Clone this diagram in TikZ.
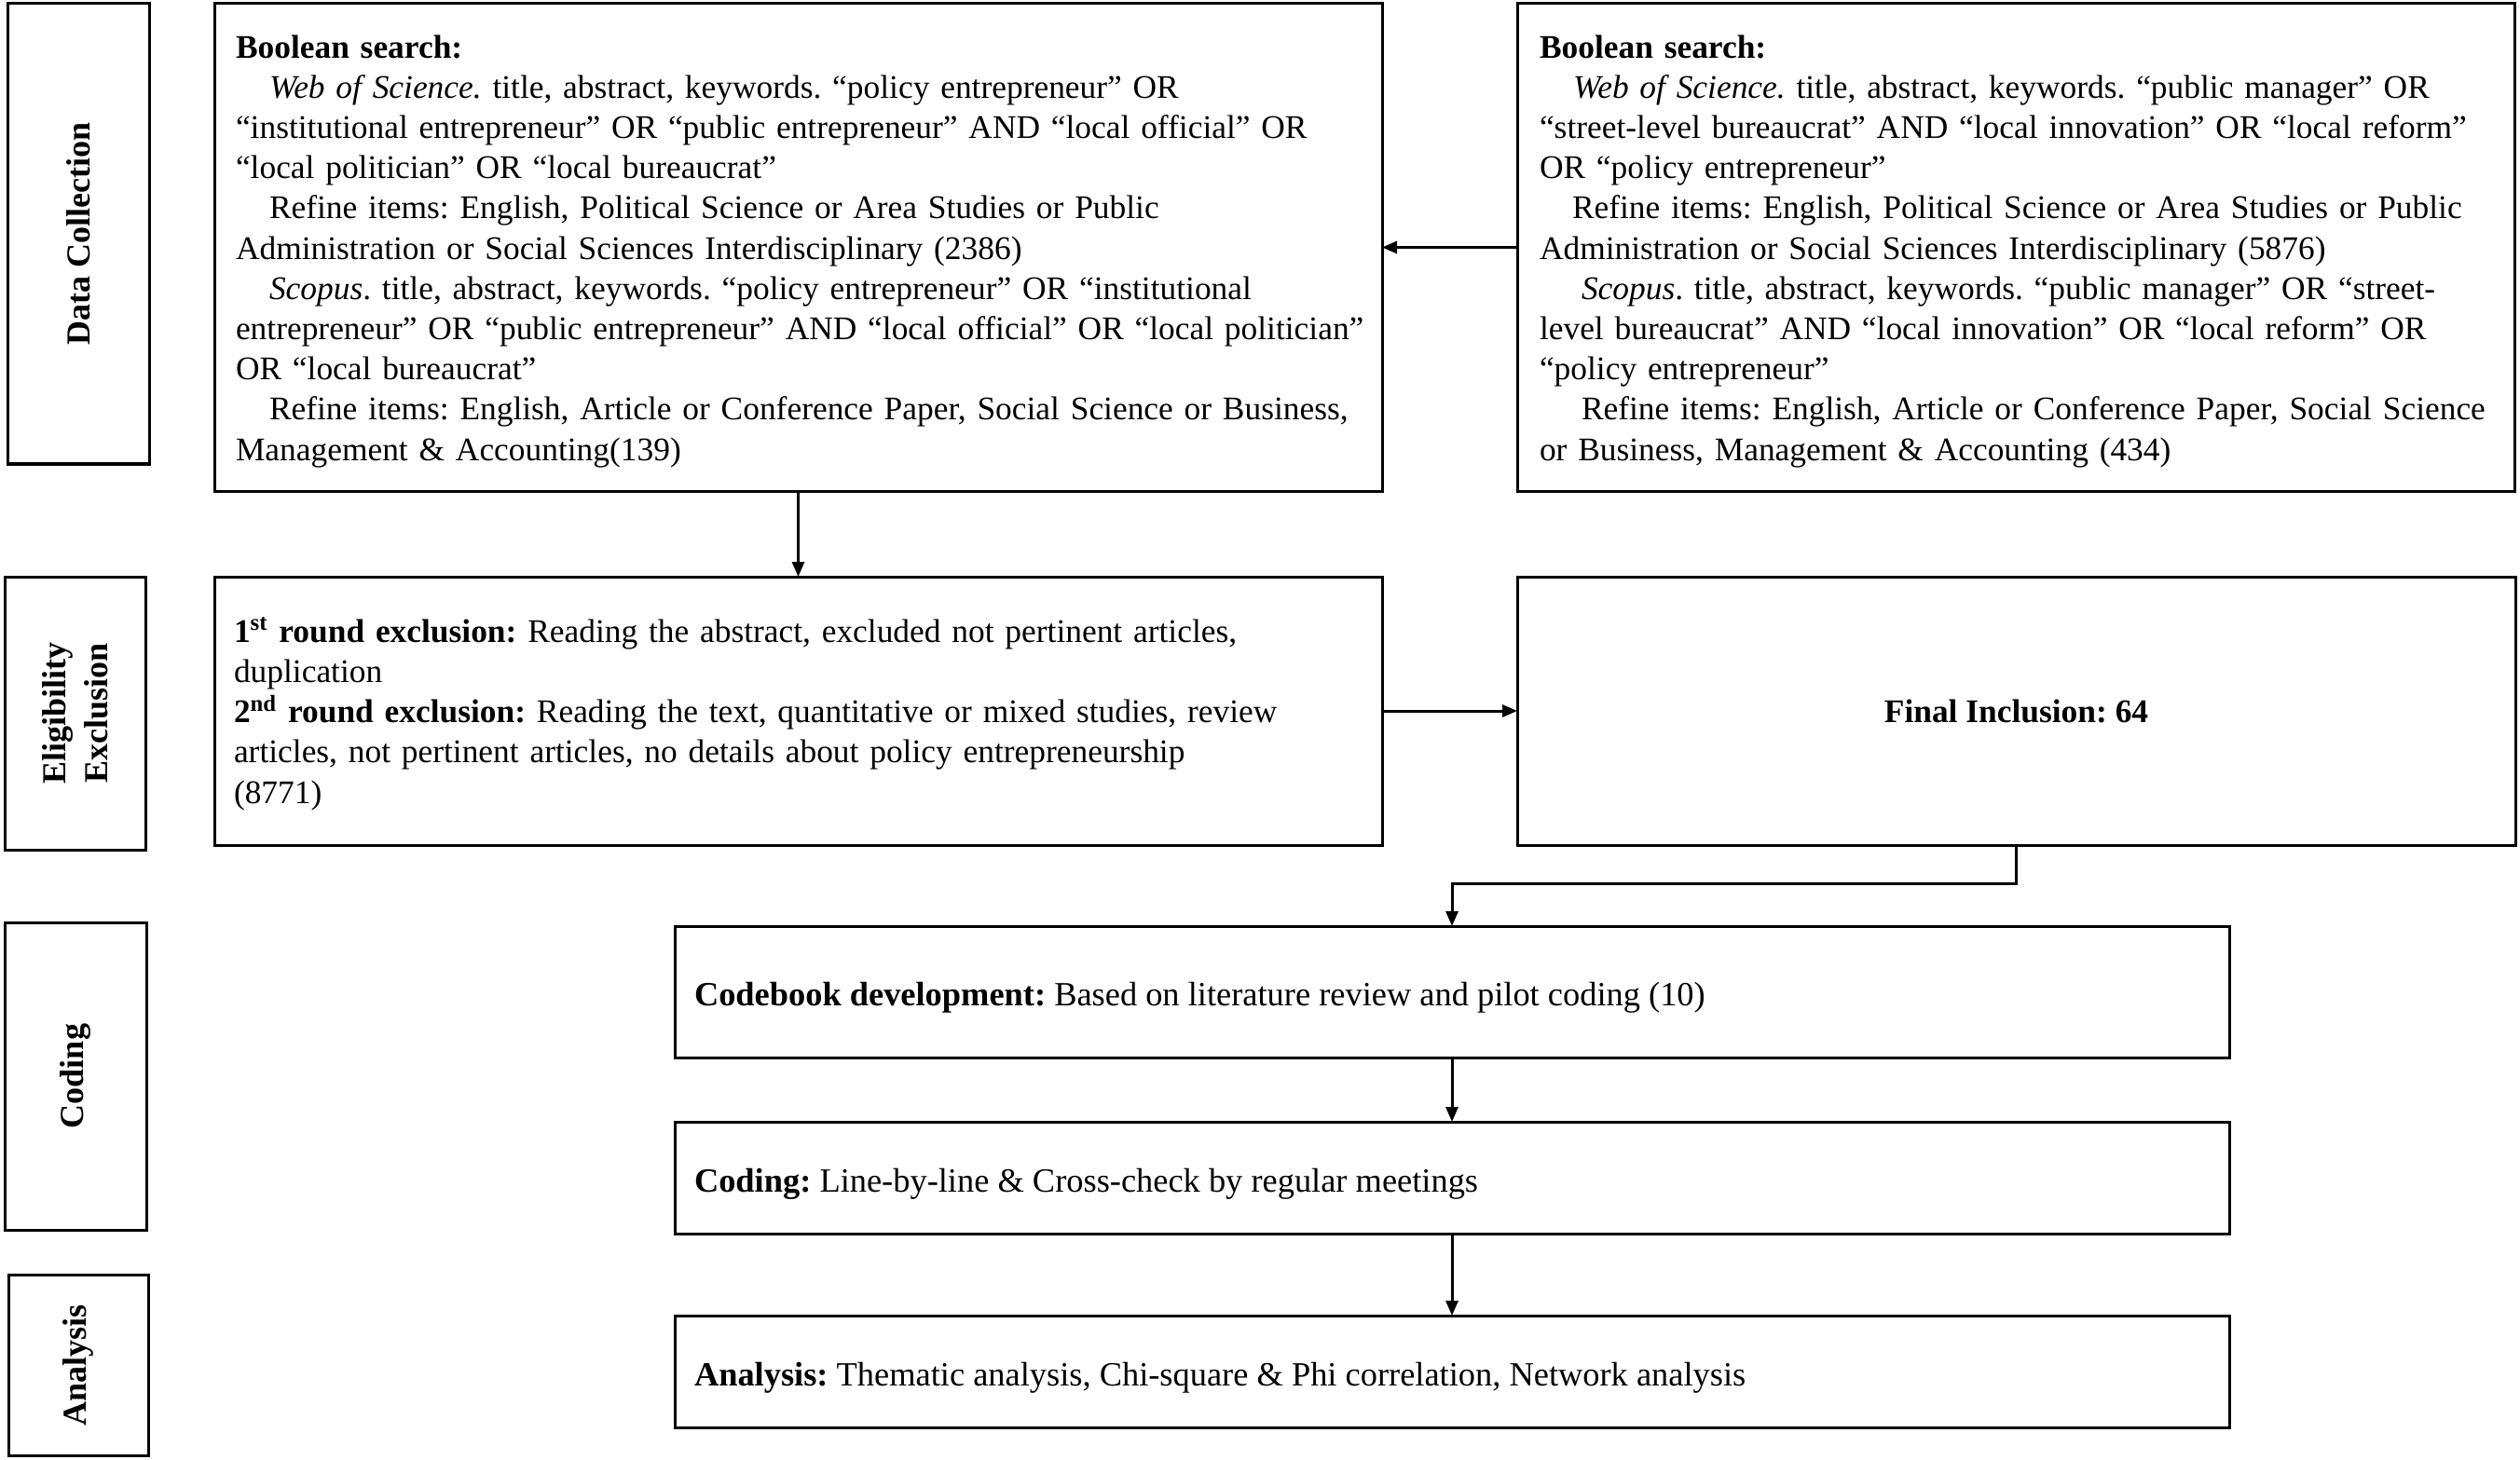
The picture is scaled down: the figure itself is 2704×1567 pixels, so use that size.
\documentclass[tikz,border=0pt]{standalone}
\usepackage{fontspec}
\setmainfont{Liberation Serif}
\usetikzlibrary{arrows.meta}
\frenchspacing
\begin{document}
\begin{tikzpicture}[x=0.5pt,y=-0.5pt,
  frame/.style={draw=black, line width=1.5pt, inner sep=0pt, outer sep=0pt},
  txt/.style={inner sep=0pt, outer sep=0pt, anchor=north west, align=left, text width=700pt,
              font=\fontsize{17.7}{21.6}\selectfont\frenchspacing},
  oneline/.style={inner sep=0pt, outer sep=0pt, anchor=west, font=\fontsize{18.2}{21.6}\selectfont\frenchspacing},
  lab/.style={inner sep=0pt, rotate=90, align=center, font=\fontsize{18}{22.5}\selectfont\bfseries},
  arr/.style={draw=black, line width=1.5pt, -{Triangle[length=8pt,width=6.5pt]}}
]
\useasboundingbox (0,0) rectangle (2704,1567);
% stage labels
\node[frame, minimum width=76pt, minimum height=247pt] (lab1) at (84,251) {};
\node[lab] (lab1t) at (lab1.center) {Data Collection};
\node[frame, minimum width=75.5pt, minimum height=146.5pt] (lab2) at (80.5,765.5) {};
\node[lab] (lab2t) at (lab2.center) {Eligibility\\Exclusion};
\node[frame, minimum width=76pt, minimum height=165pt] (lab3) at (81,1155) {};
\node[lab] (lab3t) at (lab3.center) {Coding};
\node[frame, minimum width=75pt, minimum height=97pt] (lab4) at (84,1465) {};
\node[lab] (lab4t) at (lab4.center) {Analysis};
% boxes
\node[frame, minimum width=626.5pt, minimum height=261.5pt] (b1) at (856.5,265.5) {};
\node[frame, minimum width=535pt, minimum height=261.5pt] (b1r) at (2163,265.5) {};
\node[frame, minimum width=626.5pt, minimum height=144pt] (b2) at (856.5,763) {};
\node[frame, minimum width=535.5pt, minimum height=144pt] (fin) at (2163.5,763) {};
\node[frame, minimum width=834pt, minimum height=70.5pt] (cb) at (1558,1064.5) {};
\node[frame, minimum width=834pt, minimum height=60pt] (cod) at (1558,1264) {};
\node[frame, minimum width=834pt, minimum height=60pt] (an) at (1558,1472) {};
% texts
\node[txt] (b1t) at (253,31.8) {\strut\textbf{Boolean search:}\\
\hspace*{18pt}\textit{Web of Science.} title, abstract, keywords. “policy entrepreneur” OR\\
“institutional entrepreneur” OR “public entrepreneur” AND “local official” OR\\
“local politician” OR “local bureaucrat”\\
\hspace*{18pt}Refine items: English, Political Science or Area Studies or Public\\
Administration or Social Sciences Interdisciplinary (2386)\\
\hspace*{18pt}\textit{Scopus}. title, abstract, keywords. “policy entrepreneur” OR “institutional\\
entrepreneur” OR “public entrepreneur” AND “local official” OR “local politician”\\
OR “local bureaucrat”\\
\hspace*{18pt}Refine items: English, Article or Conference Paper, Social Science or Business,\\
Management \& Accounting(139)};
\node[txt] (b1rt) at (1652,31.8) {\strut\textbf{Boolean search:}\\
\hspace*{18pt}\textit{Web of Science.} title, abstract, keywords. “public manager” OR\\
“street-level bureaucrat” AND “local innovation” OR “local reform”\\
OR “policy entrepreneur”\\
\hspace*{17.5pt}Refine items: English, Political Science or Area Studies or Public\\
Administration or Social Sciences Interdisciplinary (5876)\\
\hspace*{22.5pt}\textit{Scopus}. title, abstract, keywords. “public manager” OR “street-\\
level bureaucrat” AND “local innovation” OR “local reform” OR\\
“policy entrepreneur”\\
\hspace*{22.5pt}Refine items: English, Article or Conference Paper, Social Science\\
or Business, Management \& Accounting (434)};
\node[txt] (b2t) at (251,659) {\strut\textbf{1\textsuperscript{st} round exclusion:} Reading the abstract, excluded not pertinent articles,\\
duplication\\
\textbf{2\textsuperscript{nd} round exclusion:} Reading the text, quantitative or mixed studies, review\\
articles, not pertinent articles, no details about policy entrepreneurship\\
(8771)};
\node[inner sep=0pt, font=\fontsize{17.7}{21.6}\selectfont\bfseries] (fint) at (fin.center) {Final Inclusion: 64};
\node[oneline] (cbt) at (745,1071) {\textbf{Codebook development:} Based on literature review and pilot coding (10)};
\node[oneline] (codt) at (745,1271) {\textbf{Coding:} Line-by-line \& Cross-check by regular meetings};
\node[oneline] (ant) at (745,1479) {\textbf{Analysis:} Thematic analysis, Chi-square \& Phi correlation, Network analysis};
% connectors
\coordinate (j1) at (1558,948);
\draw[arr] (b1r.west) -- (b1.east);
\draw[arr] (b1.south) -- (b2.north);
\draw[arr] (b2.east) -- (fin.west);
\draw[arr] (fin.south) |- (j1) -- (cb.north);
\draw[arr] (cb.south) -- (cod.north);
\draw[arr] (cod.south) -- (an.north);
\end{tikzpicture}
\end{document}
